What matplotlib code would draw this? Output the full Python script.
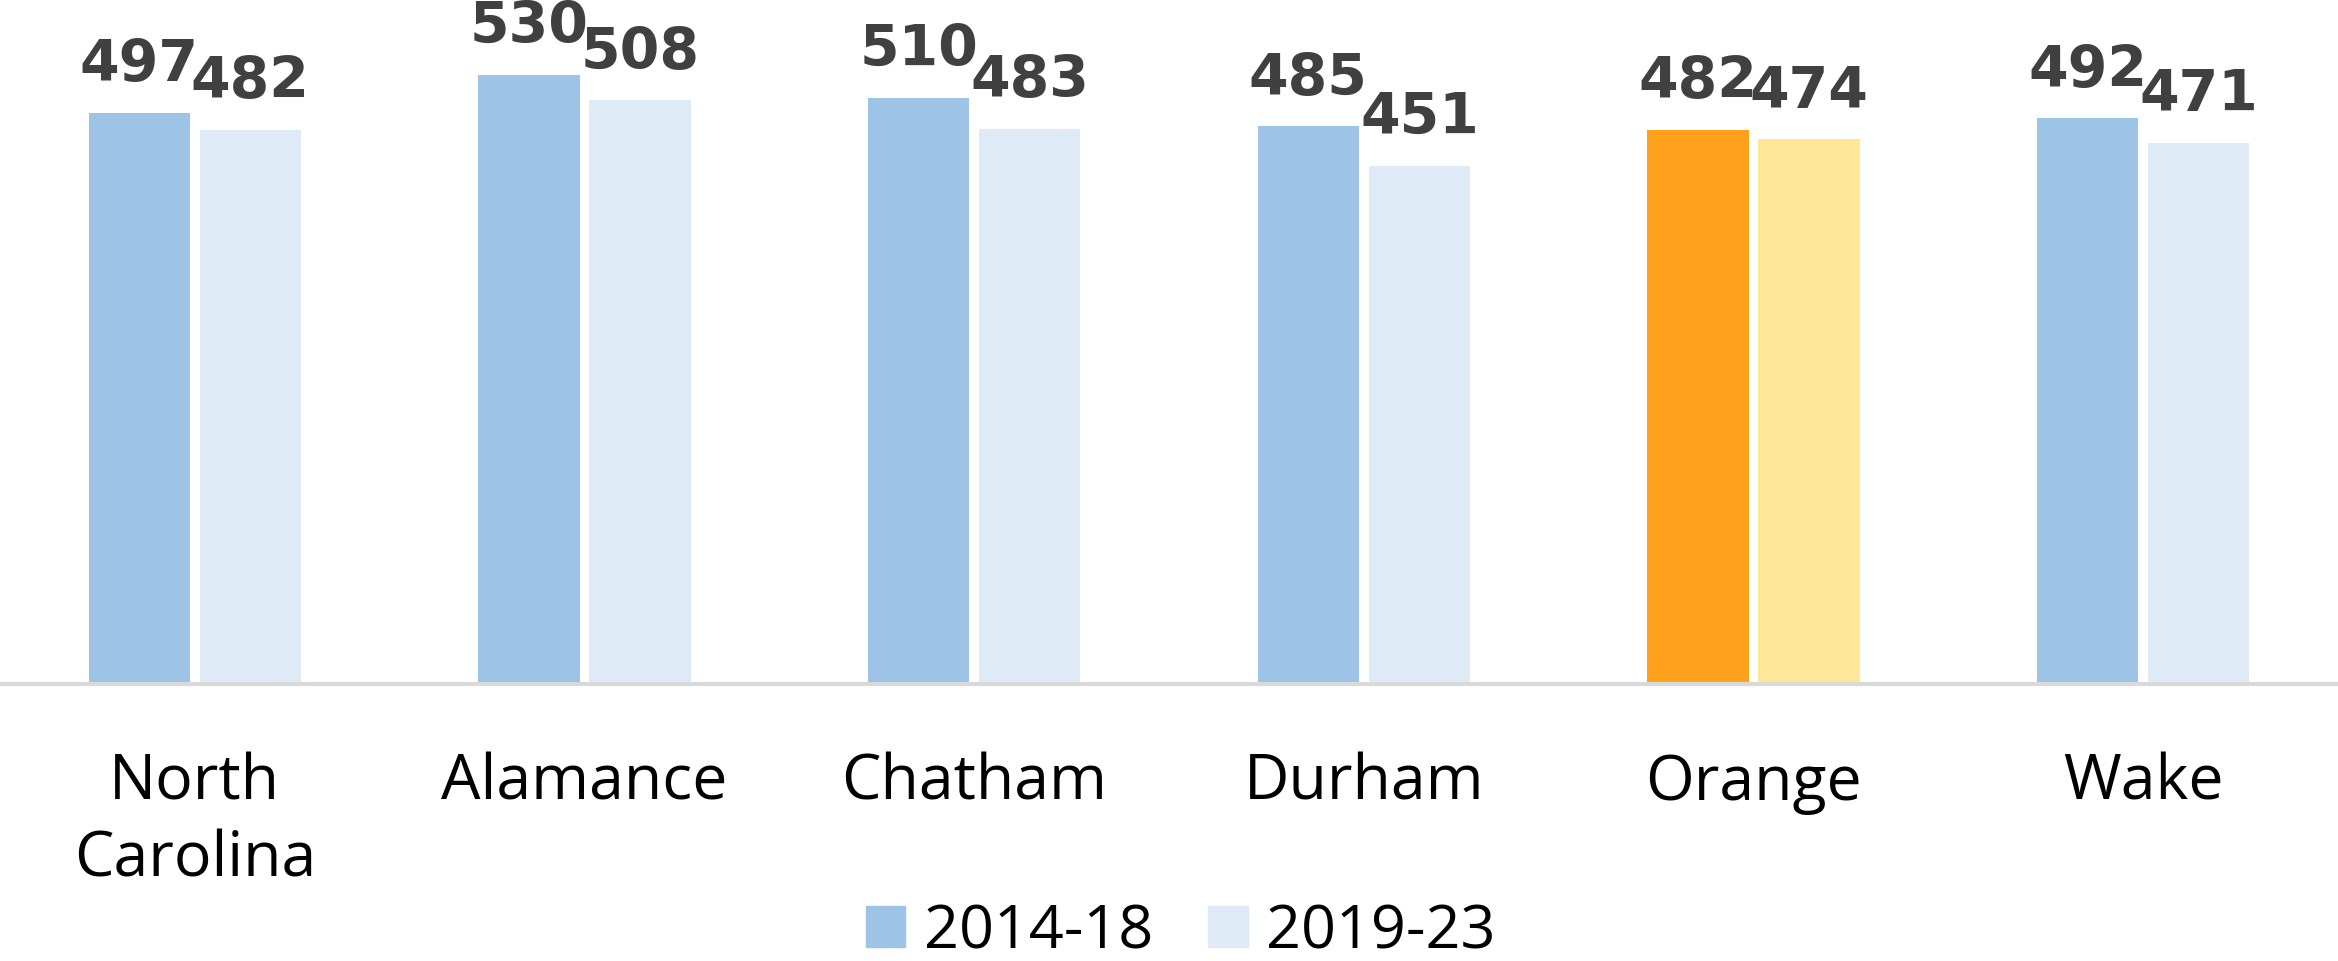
import matplotlib.pyplot as plt
import numpy as np
from matplotlib.patches import Patch

# datos
condados = ['North\nCarolina', 'Alamance', 'Chatham', 'Durham', 'Orange', 'Wake']
valores_2014 = [497, 530, 510, 485, 482, 492]
valores_2019 = [482, 508, 483, 451, 474, 471]
series = ['2014-18', '2019-23']

azul, azul_claro = '#9DC3E6', '#DEEBF7'
naranja, amarillo = '#FFA01C', '#FFE699'
resaltado = 'Orange'

fig = plt.figure(figsize=(23.38, 9.61), dpi=100)
ax = fig.add_axes([0, 1 - 684 / 961, 1, 684 / 961])

x = np.arange(len(condados))
ancho = 0.26
sep = 0.1425
col1 = [naranja if c == resaltado else azul for c in condados]
col2 = [amarillo if c == resaltado else azul_claro for c in condados]
b1 = ax.bar(x - sep, valores_2014, ancho, color=col1)
b2 = ax.bar(x + sep, valores_2019, ancho, color=col2)

# etiquetas de valor sobre cada barra
for barras in (b1, b2):
    for b in barras:
        ax.annotate(f'{b.get_height():.0f}', (b.get_x() + b.get_width() / 2, b.get_height()),
                    xytext=(0, 14), textcoords='offset points', ha='center', va='bottom',
                    fontsize=41, fontweight='bold', color='#404040', family='DejaVu Sans')

ax.set_xlim(-0.5, len(condados) - 0.5)
ax.set_ylim(0, 595)
ax.set_yticks([])
ax.set_xticks(x)
ax.set_xticklabels(condados, fontsize=45, family='Open Sans', linespacing=1.3)
ax.tick_params(axis='x', length=0, pad=49)
for s in ['top', 'right', 'left']:
    ax.spines[s].set_visible(False)
ax.spines['bottom'].set_color('#D9D9D9')
ax.spines['bottom'].set_linewidth(3)

handles = [Patch(color=azul, label=series[0]), Patch(color=azul_claro, label=series[1])]
fig.legend(handles=handles, loc='center', bbox_to_anchor=(0.505, 0.03), ncol=2, frameon=False,
           prop={'family': 'Open Sans', 'size': 44}, handlelength=0.65, handleheight=0.65,
           handletextpad=0.3, columnspacing=0.9)

fig.savefig('out.png', dpi=100)
